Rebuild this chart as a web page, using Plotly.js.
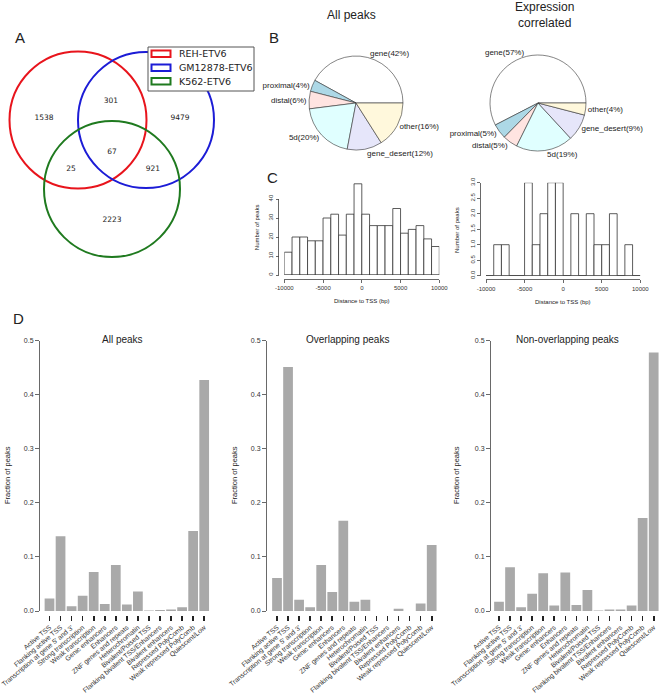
<!DOCTYPE html>
<html><head><meta charset="utf-8">
<script src="https://cdn.plot.ly/plotly-3.0.1.min.js"></script>
<style>html,body{margin:0;padding:0;background:#fff}#chart{width:660px;height:693px}</style>
</head><body><div id="chart"></div>
<script>
// ---------------- data ----------------
const vennSets = ['REH-ETV6', 'GM12878-ETV6', 'K562-ETV6'];
const vennRegions = ['REH only', 'REH & GM12878', 'GM12878 only', 'all three', 'REH & K562', 'GM12878 & K562', 'K562 only'];
const vennCounts = [1538, 301, 9479, 67, 25, 921, 2223];

const pieLabels = ['gene', 'proximal', 'distal', '5d', 'gene_desert', 'other'];
const pieAllPeaks = [42, 4, 6, 20, 12, 16];
const pieExprCorr = [57, 5, 5, 19, 9, 4];

const tssBinStart = [-10000, -9000, -8000, -7000, -6000, -5000, -4000, -3000, -2000, -1000,
                     0, 1000, 2000, 3000, 4000, 5000, 6000, 7000, 8000, 9000];
const tssAllCounts  = [12, 20, 20, 18, 18, 30, 32, 21, 32, 48, 32, 26, 26, 26, 35, 22, 24, 26, 19, 15];
const tssExprCounts = [0, 1, 1, 0, 0, 3, 1, 2, 3, 3, 0, 2, 0, 2, 1, 1, 2, 0, 1, 0];
const tssTicks = [-10000, -5000, 0, 5000, 10000];
const tssTickText = ['-10000', '-5000', '0', '5000', '10000'];
const allYTicks = [0, 10, 20, 30, 40];
const exprYTicks = [0, 0.5, 1, 1.5, 2, 2.5, 3];

const stateLabels = ['Active TSS', 'Flanking active TSS', "Transcription at gene 5' and 3'", 'Strong transcription',
  'Weak transcription', 'Genic enhancers', 'Enhancers', 'ZNF genes and repeats', 'Heterochromatin',
  'Bivalent/Poised TSS', 'Flanking bivalent TSS/Enhancers', 'Bivalent enhancers', 'Repressed PolyComb',
  'Weak repressed PolyComb', 'Quiescent/Low'];
const fracAll        = [0.023, 0.138, 0.009, 0.028, 0.072, 0.013, 0.085, 0.012, 0.036, 0.001, 0.002, 0.003, 0.007, 0.148, 0.427];
const fracOverlap    = [0.061, 0.451, 0.021, 0.007, 0.085, 0.035, 0.167, 0.017, 0.021, 0, 0, 0.004, 0, 0.014, 0.122];
const fracNonOverlap = [0.017, 0.081, 0.007, 0.032, 0.070, 0.010, 0.071, 0.011, 0.039, 0.001, 0.003, 0.003, 0.010, 0.172, 0.478];

// ---------------- layout helpers ----------------
const W = 660, H = 693;
const fx = p => p / W;
const fy = p => 1 - p / H;
const FONT = 'Liberation Sans, Arial, sans-serif';
const VFONT = 'DejaVu Sans, sans-serif';
const AX = '#444';

const binWidth = tssBinStart[1] - tssBinStart[0];
const binCenters = tssBinStart.map(v => v + binWidth / 2);
const binLo = tssBinStart[0], binHi = tssBinStart[tssBinStart.length - 1] + binWidth;

const pieColors = ['#ffffff', '#add8e6', '#ffe4e1', '#e0ffff', '#e6e6fa', '#fff8dc'];

const traces = [];

// Venn region labels (positions in panel pixel units)
const vennPos = [[44, 118], [111, 101], [180, 118], [112, 152], [71, 169], [153, 169], [112, 220]];
traces.push({
  type: 'scatter', mode: 'text', xaxis: 'x6', yaxis: 'y7',
  x: vennPos.map(p => p[0]), y: vennPos.map(p => p[1]),
  text: vennCounts.map(String), customdata: vennRegions,
  textfont: {family: VFONT, size: 7.5, color: '#222'},
  hoverinfo: 'skip', showlegend: false, cliponaxis: false
});

// Pies (R style: first slice starts at 3 o'clock, counterclockwise)
function pieTrace(vals, domX, domY) {
  const total = vals.reduce((a, b) => a + b, 0);
  return {
    type: 'pie', values: vals, labels: pieLabels, sort: false,
    direction: 'counterclockwise', rotation: 90 - 360 * vals[0] / total,
    marker: {colors: pieColors, line: {color: '#333', width: 0.6}},
    text: pieLabels.map((l, i) => l + '(' + vals[i] + '%)'),
    textinfo: 'text', textposition: 'outside',
    outsidetextfont: {family: FONT, size: 8, color: '#222'},
    domain: {x: domX, y: domY}, hoverinfo: 'skip', showlegend: false
  };
}
traces.push(pieTrace(pieAllPeaks, [fx(309), fx(403)], [fy(150), fy(56)]));
traces.push(pieTrace(pieExprCorr, [fx(490), fx(586)], [fy(151), fy(55)]));

// Histograms
function histBars(counts, xa, ya) {
  return {
    type: 'bar', x: binCenters, y: counts, width: binWidth, xaxis: xa, yaxis: ya,
    marker: {color: '#ffffff', line: {color: '#333', width: 0.8}},
    hoverinfo: 'skip', showlegend: false
  };
}
function baseline(xa, ya) {
  return {type: 'scatter', mode: 'lines', x: [binLo, binHi], y: [0, 0], xaxis: xa, yaxis: ya,
    line: {color: '#333', width: 0.8}, hoverinfo: 'skip', showlegend: false};
}
traces.push(baseline('x', 'y'));
traces.push(histBars(tssAllCounts, 'x', 'y'));
traces.push({type: 'scatter', x: [], y: [], xaxis: 'x', yaxis: 'y2', hoverinfo: 'skip', showlegend: false});
traces.push(baseline('x2', 'y3'));
traces.push(histBars(tssExprCounts, 'x2', 'y3'));

// Chromatin state bars
function stateBars(vals, xa, ya) {
  return {type: 'bar', x: stateLabels, y: vals, xaxis: xa, yaxis: ya,
    marker: {color: '#a9a9a9'}, hoverinfo: 'skip', showlegend: false};
}
traces.push(stateBars(fracAll, 'x3', 'y4'));
traces.push(stateBars(fracOverlap, 'x4', 'y5'));
traces.push(stateBars(fracNonOverlap, 'x5', 'y6'));

// ---------------- axes ----------------
const tickFont = {family: FONT, size: 6, color: '#333'};
function histX(dom, posPx) {
  return {domain: dom, range: [binLo, binHi], anchor: 'free', position: fy(posPx),
    showline: true, linecolor: AX, linewidth: 0.8, ticks: 'outside', ticklen: 3, tickwidth: 0.8,
    tickcolor: AX, tickvals: tssTicks, ticktext: tssTickText, tickfont: tickFont,
    showgrid: false, zeroline: false, fixedrange: true};
}
function histY(dom, range, posPx, tv, tt) {
  return {domain: dom, range: range, anchor: 'free', position: fx(posPx),
    showline: true, linecolor: AX, linewidth: 0.8, ticks: 'outside', ticklen: 3, tickwidth: 0.8,
    tickcolor: AX, tickvals: tv, ticktext: tt, tickangle: -90, tickfont: tickFont,
    showgrid: false, zeroline: false, fixedrange: true};
}
const stateStep = 11.05;
function stateX(c0) {
  return {domain: [fx(c0 - 0.5 * stateStep), fx(c0 + 14.5 * stateStep)], type: 'category',
    range: [-0.5, 14.5], anchor: 'free', position: fy(615), showline: false,
    ticks: 'outside', ticklen: 5, tickwidth: 1.6, tickcolor: '#222',
    tickvals: stateLabels, ticktext: stateLabels, tickangle: -40,
    tickfont: {family: FONT, size: 6.8, color: '#333'}, showgrid: false, zeroline: false, fixedrange: true};
}
function stateY(posPx) {
  return {domain: [fy(611), fy(340.5)], range: [0, 0.5], anchor: 'free', position: fx(posPx),
    showline: true, linecolor: AX, linewidth: 0.8, ticks: 'outside', ticklen: 4, tickwidth: 0.8,
    tickcolor: AX, tickvals: [0, 0.1, 0.2, 0.3, 0.4, 0.5], ticktext: ['0.0', '0.1', '0.2', '0.3', '0.4', '0.5'],
    tickfont: {family: FONT, size: 7, color: '#333'}, showgrid: false, zeroline: false, fixedrange: true};
}

const layout = {
  width: W, height: H, margin: {l: 0, r: 0, t: 0, b: 0},
  paper_bgcolor: '#fff', plot_bgcolor: 'rgba(0,0,0,0)',
  font: {family: FONT, color: '#222'}, showlegend: false, bargap: 0.12,
  xaxis: histX([fx(284.3), fx(439.3)], 279),
  yaxis: {domain: [fy(275), fy(180)], range: [0, 50], visible: false, anchor: 'free', position: 0, fixedrange: true},
  yaxis2: histY([fy(275), fy(199)], [0, 40], 278.5, allYTicks, allYTicks.map(String)),
  xaxis2: histX([fx(486), fx(640.3)], 279.5),
  yaxis3: histY([fy(275.7), fy(182.7)], [0, 3], 480, exprYTicks, exprYTicks.map(v => v.toFixed(1))),
  xaxis3: stateX(49.5), yaxis4: stateY(39),
  xaxis4: stateX(277), yaxis5: stateY(266),
  xaxis5: stateX(499), yaxis6: stateY(490),
  xaxis6: {domain: [0, fx(270)], range: [0, 270], visible: false, fixedrange: true},
  yaxis7: {domain: [fy(270), fy(30)], range: [270, 30], visible: false, fixedrange: true},
  shapes: [],
  annotations: []
};

// Venn circles and legend
const vennCircles = [
  {cx: 78, cy: 120, r: 68.5, color: '#e8141c'},
  {cx: 146, cy: 120, r: 68, color: '#1c1cd6'},
  {cx: 112, cy: 189, r: 68, color: '#1f7a1f'}
];
vennCircles.forEach(c => layout.shapes.push({type: 'circle', xref: 'x6', yref: 'y7',
  x0: c.cx - c.r, x1: c.cx + c.r, y0: c.cy - c.r, y1: c.cy + c.r, line: {color: c.color, width: 2}}));
layout.shapes.push({type: 'rect', xref: 'x6', yref: 'y7', x0: 148, x1: 254, y0: 47, y1: 91,
  line: {color: '#555', width: 1}, fillcolor: '#fff'});
const legY = [53.7, 67.8, 81.3];
vennSets.forEach((s, i) => {
  layout.shapes.push({type: 'rect', xref: 'x6', yref: 'y7', x0: 151.5, x1: 170.5, y0: legY[i] - 3.3, y1: legY[i] + 3.3,
    line: {color: vennCircles[i].color, width: 2}, fillcolor: '#fff'});
  layout.annotations.push({xref: 'x6', yref: 'y7', x: 177, y: legY[i], text: s, showarrow: false,
    xanchor: 'left', yanchor: 'middle', font: {family: VFONT, size: 9.5, color: '#222'}});
});

// Text annotations (titles, panel letters, axis titles)
function ann(xp, yp, text, size, opts) {
  layout.annotations.push(Object.assign({xref: 'paper', yref: 'paper', x: fx(xp), y: fy(yp), text: text,
    showarrow: false, xanchor: 'center', yanchor: 'middle', font: {family: FONT, size: size, color: '#222'}}, opts || {}));
}
ann(20, 38, 'A', 15); ann(274, 38, 'B', 15); ann(272, 177, 'C', 15); ann(18, 319, 'D', 15);
ann(351, 15, 'All peaks', 12);
ann(544, 15, 'Expression<br>correlated', 12);
ann(256.7, 227.5, 'Number of peaks', 6, {textangle: -90});
ann(457, 230, 'Number of peaks', 6, {textangle: -90});
ann(361.8, 300.7, 'Distance to TSS (bp)', 6);
ann(563.2, 301.5, 'Distance to TSS (bp)', 6);
ann(122, 339, 'All peaks', 10);
ann(348, 339, 'Overlapping peaks', 10);
ann(567, 339, 'Non-overlapping peaks', 10);
ann(8, 475, 'Fraction of peaks', 7.5, {textangle: -90});
ann(235, 475, 'Fraction of peaks', 7.5, {textangle: -90});
ann(457, 475, 'Fraction of peaks', 7.5, {textangle: -90});

Plotly.newPlot('chart', traces, layout, {staticPlot: true, displayModeBar: false});
</script>
</body></html>
